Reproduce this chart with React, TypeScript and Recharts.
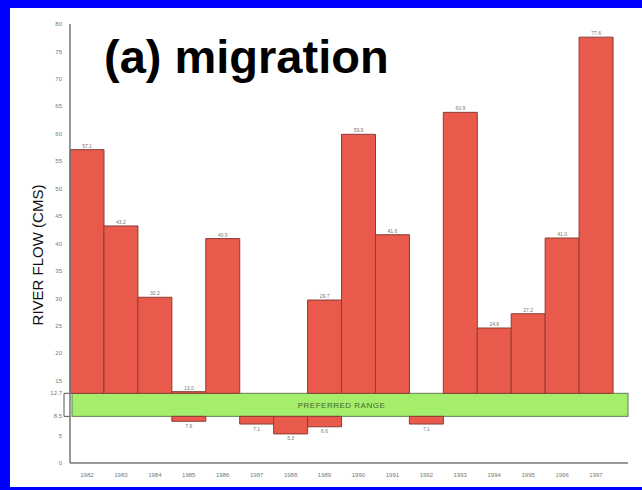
import React from "react";
import {
  BarChart,
  Bar,
  XAxis,
  YAxis,
  ReferenceArea,
  LabelList,
} from "recharts";

const years = [
  "1982", "1983", "1984", "1985", "1986", "1987", "1988", "1989",
  "1990", "1991", "1992", "1993", "1994", "1995", "1996", "1997",
];
// flow above the preferred range (bar drawn from the top of the range up)
const highFlow = [57.1, 43.2, 30.2, 13.0, 40.9, null, null, 29.7, 59.9, 41.6, null, 63.9, 24.6, 27.2, 41.0, 77.6];
// flow below the preferred range (bar drawn from the bottom of the range down)
const lowFlow = [null, null, null, 7.6, null, 7.1, 5.3, 6.6, null, null, 7.1, null, null, null, null, null];
const rangeLow = 8.5;
const rangeHigh = 12.7;
const yTicks = [0, 5, 8.5, 12.7, 15, 20, 25, 30, 35, 40, 45, 50, 55, 60, 65, 70, 75, 80];

const data = years.map((year, i) => ({
  year,
  high: highFlow[i],
  low: lowFlow[i],
  highRange: highFlow[i] == null ? null : [rangeHigh, highFlow[i]],
  lowRange: lowFlow[i] == null ? null : [lowFlow[i], rangeLow],
}));

const BAR_FILL = "#ea5a4c";
const BAR_STROKE = "#8a3d32";
const FONT = "'Liberation Sans', Arial, sans-serif";
const RIGHT_PAD = 15;

const fmt = (v: any) => (v == null ? "" : Number(v).toFixed(1));

// green band (runs on under the axis padding) plus the little bracket left of the axis
const RangeBand = (props: any) => {
  const { x, y, width, height } = props;
  const w = width + RIGHT_PAD;
  return (
    <g>
      <rect
        x={x + 2}
        y={y}
        width={w - 2}
        height={height}
        fill="#a5ee6c"
        stroke="#5f7f52"
        strokeWidth={1}
      />
      <path
        d={`M${x},${y} H${x - 6} V${y + height} H${x}`}
        fill="none"
        stroke="#555"
        strokeWidth={1}
      />
      <text
        x={x + width / 2}
        y={y + height / 2 + 3}
        textAnchor="middle"
        fontSize={8}
        fill="#3f6b2a"
        fontFamily={FONT}
        letterSpacing={0.5}
      >
        PREFERRED RANGE
      </text>
    </g>
  );
};

export default function App() {
  return (
    <div
      style={{
        position: "absolute",
        left: 0,
        top: 0,
        width: 642,
        height: 490,
        background: "#fff",
        overflow: "hidden",
      }}
    >
      <BarChart
        width={642}
        height={490}
        data={data}
        barCategoryGap={0}
        barGap={0}
        margin={{ top: 24, right: 14, bottom: 0, left: 0 }}
        style={{ position: "absolute", left: 0, top: 0 }}
      >
        <XAxis
          dataKey="year"
          height={27}
          padding={{ left: 0, right: RIGHT_PAD }}
          axisLine={{ stroke: "#777", strokeWidth: 1.5 }}
          tickLine={false}
          tick={{ fontSize: 6, fill: "#777", fontFamily: FONT }}
          tickMargin={4}
          interval={0}
        />
        <XAxis xAxisId="low" dataKey="year" hide padding={{ left: 0, right: RIGHT_PAD }} />
        <YAxis
          width={70}
          domain={[0, 80]}
          ticks={yTicks}
          interval={0}
          axisLine={{ stroke: "#777", strokeWidth: 1.5 }}
          tickLine={false}
          tickSize={4}
          tickMargin={4}
          tick={{ fontSize: 6, fill: "#777", fontFamily: FONT }}
        />
        <ReferenceArea y1={rangeLow} y2={rangeHigh} shape={<RangeBand />} ifOverflow="visible" />
        <Bar
          dataKey="highRange"
          fill={BAR_FILL}
          stroke={BAR_STROKE}
          strokeWidth={1}
          isAnimationActive={false}
        >
          <LabelList
            dataKey="high"
            position="top"
            formatter={fmt}
            style={{ fontSize: 5, fill: "#777", fontFamily: FONT }}
            offset={2}
          />
        </Bar>
        <Bar
          dataKey="lowRange"
          xAxisId="low"
          fill={BAR_FILL}
          stroke={BAR_STROKE}
          strokeWidth={1}
          isAnimationActive={false}
        >
          <LabelList
            dataKey="low"
            position="bottom"
            formatter={fmt}
            style={{ fontSize: 5, fill: "#777", fontFamily: FONT }}
            offset={3}
          />
        </Bar>
      </BarChart>

      <div
        style={{
          position: "absolute",
          left: 104,
          top: 30,
          fontFamily: FONT,
          fontWeight: "bold",
          fontSize: 47,
          lineHeight: "54px",
          color: "#000",
          whiteSpace: "nowrap",
        }}
      >
        (a) migration
      </div>
      <div
        style={{
          position: "absolute",
          left: 37,
          top: 255,
          transform: "translate(-50%, -50%) rotate(-90deg)",
          fontFamily: FONT,
          fontSize: 15,
          color: "#111",
          whiteSpace: "nowrap",
        }}
      >
        RIVER FLOW (CMS)
      </div>

      <div style={{ position: "absolute", left: 0, top: 0, width: 642, height: 8, background: "#0000ff" }} />
      <div style={{ position: "absolute", left: 0, top: 0, width: 10, height: 490, background: "#0000ff" }} />
      <div style={{ position: "absolute", left: 0, top: 487, width: 642, height: 3, background: "#0000ff" }} />
    </div>
  );
}
